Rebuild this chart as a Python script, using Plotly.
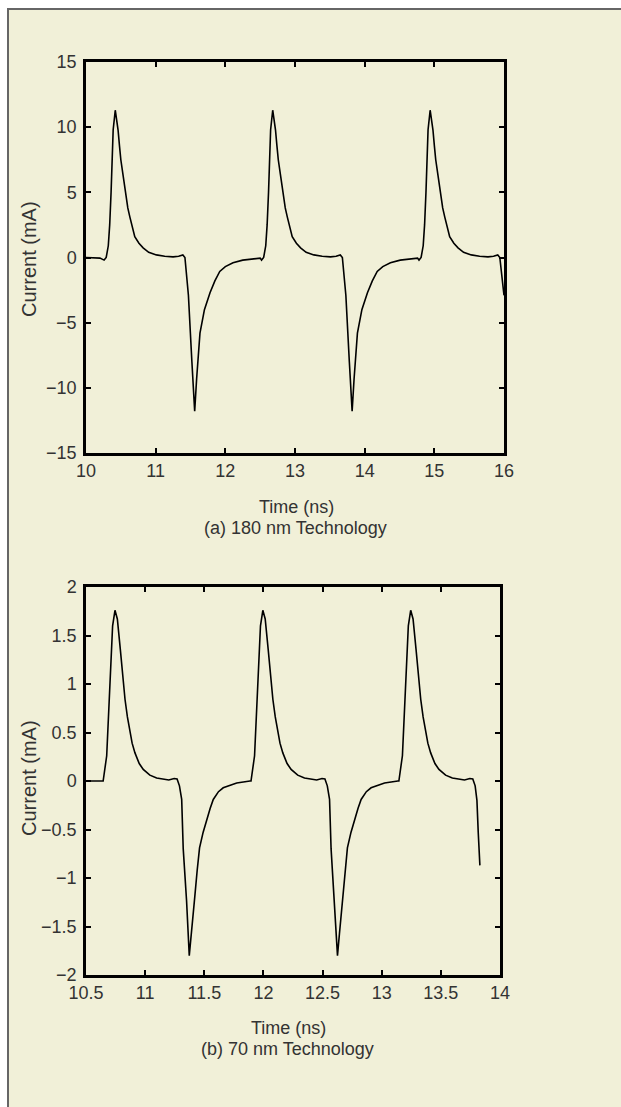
import plotly.graph_objects as go

# ---- data: (a) 180 nm technology ----
time_a = [10.00, 10.10, 10.20,
          10.26, 10.29, 10.32, 10.34, 10.36, 10.39, 10.42, 10.44, 10.46, 10.48,
          10.50, 10.535, 10.57, 10.60, 10.63, 10.665, 10.70, 10.76, 10.82, 10.90,
          11.01, 11.13, 11.25, 11.33, 11.39, 11.42, 11.47, 11.52, 11.56, 11.588,
          11.636, 11.70, 11.78, 11.85, 11.92, 12.00, 12.11, 12.25, 12.40, 12.50,
          12.52, 12.55, 12.58, 12.60, 12.62, 12.65, 12.68, 12.70, 12.72, 12.74,
          12.76, 12.795, 12.83, 12.86, 12.89, 12.925, 12.96, 13.02, 13.08, 13.16,
          13.27, 13.39, 13.51, 13.59, 13.65, 13.68, 13.73, 13.78, 13.82, 13.848,
          13.896, 13.96, 14.04, 14.11, 14.18, 14.26, 14.37, 14.51, 14.66, 14.76,
          14.78, 14.81, 14.84, 14.86, 14.88, 14.91, 14.94, 14.96, 14.98, 15.00,
          15.02, 15.055, 15.09, 15.12, 15.15, 15.185, 15.22, 15.28, 15.34, 15.42,
          15.53, 15.65, 15.77, 15.85, 15.91, 15.94, 16.00]
current_a = [0.0, 0.0, -0.05,
             -0.2, 0.0, 0.9, 2.5, 5.0, 9.8, 11.3, 10.6, 9.8, 8.6,
             7.5, 6.2, 4.7, 3.8, 3.1, 2.3, 1.6, 1.1, 0.74, 0.4,
             0.2, 0.1, 0.05, 0.1, 0.2, 0.0, -2.9, -8.0, -11.8, -9.3,
             -5.8, -4.0, -2.7, -1.8, -1.07, -0.7, -0.4, -0.2, -0.1, -0.05,
             -0.2, 0.0, 0.9, 2.5, 5.0, 9.8, 11.3, 10.6, 9.8, 8.6,
             7.5, 6.2, 4.7, 3.8, 3.1, 2.3, 1.6, 1.1, 0.74, 0.4,
             0.2, 0.1, 0.05, 0.1, 0.2, 0.0, -2.9, -8.0, -11.8, -9.3,
             -5.8, -4.0, -2.7, -1.8, -1.07, -0.7, -0.4, -0.2, -0.1, -0.05,
             -0.2, 0.0, 0.9, 2.5, 5.0, 9.8, 11.3, 10.6, 9.8, 8.6,
             7.5, 6.2, 4.7, 3.8, 3.1, 2.3, 1.6, 1.1, 0.74, 0.4,
             0.2, 0.1, 0.05, 0.1, 0.2, 0.0, -2.9]

# ---- data: (b) 70 nm technology ----
time_b = [10.50, 10.60,
          10.645, 10.675, 10.703, 10.725, 10.745, 10.765, 10.79, 10.81, 10.83, 10.85,
          10.872, 10.89, 10.914, 10.95, 10.984, 11.04, 11.097, 11.20, 11.245, 11.27,
          11.29, 11.309, 11.322, 11.35, 11.373, 11.393, 11.42, 11.44, 11.46, 11.49,
          11.52, 11.55, 11.576, 11.62, 11.66, 11.72, 11.774, 11.886,
          11.895, 11.925, 11.953, 11.975, 11.995, 12.015, 12.04, 12.06, 12.08, 12.10,
          12.122, 12.14, 12.164, 12.20, 12.234, 12.29, 12.347, 12.45, 12.495, 12.52,
          12.54, 12.559, 12.572, 12.60, 12.626, 12.643, 12.67, 12.69, 12.71, 12.74,
          12.77, 12.80, 12.826, 12.87, 12.91, 12.97, 13.024, 13.136,
          13.145, 13.175, 13.203, 13.225, 13.245, 13.265, 13.29, 13.31, 13.33, 13.35,
          13.372, 13.39, 13.414, 13.45, 13.484, 13.54, 13.597, 13.70, 13.745, 13.77,
          13.79, 13.805, 13.816, 13.83]
current_b = [0.0, 0.0,
             0.0, 0.26, 1.01, 1.6, 1.76, 1.67, 1.36, 1.08, 0.84, 0.66,
             0.5, 0.39, 0.29, 0.18, 0.12, 0.06, 0.03, 0.01, 0.025, 0.02,
             -0.05, -0.19, -0.7, -1.23, -1.8, -1.57, -1.19, -0.92, -0.69, -0.53,
             -0.4, -0.28, -0.19, -0.11, -0.07, -0.04, -0.02, 0.0,
             0.0, 0.26, 1.01, 1.6, 1.76, 1.67, 1.36, 1.08, 0.84, 0.66,
             0.5, 0.39, 0.29, 0.18, 0.12, 0.06, 0.03, 0.01, 0.025, 0.02,
             -0.05, -0.19, -0.7, -1.23, -1.8, -1.57, -1.19, -0.92, -0.69, -0.53,
             -0.4, -0.28, -0.19, -0.11, -0.07, -0.04, -0.02, 0.0,
             0.0, 0.26, 1.01, 1.6, 1.76, 1.67, 1.36, 1.08, 0.84, 0.66,
             0.5, 0.39, 0.29, 0.18, 0.12, 0.06, 0.03, 0.01, 0.025, 0.02,
             -0.05, -0.2, -0.53, -0.87]

xticks_a = [10, 11, 12, 13, 14, 15, 16]
yticks_a = [-15, -10, -5, 0, 5, 10, 15]
xticks_b = [10.5, 11, 11.5, 12, 12.5, 13, 13.5, 14]
yticks_b = [-2, -1.5, -1, -0.5, 0, 0.5, 1, 1.5, 2]

W, H = 621, 1107
BG = "#F1F0D8"
TXT = "#333333"
FONT = "Liberation Sans, Arial, sans-serif"


def px_x(p):
    return p / W


def px_y(p):
    return 1 - p / H


fig = go.Figure()
fig.add_trace(go.Scatter(x=time_a, y=current_a, mode="lines",
                         line=dict(color="black", width=1.6),
                         xaxis="x", yaxis="y", showlegend=False))
fig.add_trace(go.Scatter(x=time_b, y=current_b, mode="lines",
                         line=dict(color="black", width=1.6),
                         xaxis="x2", yaxis="y2", showlegend=False))

axis_common = dict(showline=True, linecolor="black", linewidth=2.5, mirror="ticks",
                   ticks="inside", ticklen=5, tickwidth=1.5, tickcolor="black",
                   showgrid=False, zeroline=False, automargin=False,
                   tickfont=dict(family=FONT, size=18, color=TXT))

fig.update_layout(
    template="none",
    width=W, height=H,
    margin=dict(l=0, r=0, t=0, b=0, pad=0),
    paper_bgcolor="white",
    plot_bgcolor="rgba(0,0,0,0)",
    xaxis=dict(domain=[px_x(86), px_x(504)], range=[10, 16], tickvals=xticks_a,
               anchor="y", **axis_common),
    yaxis=dict(domain=[px_y(453), px_y(62)], range=[-15, 15], tickvals=yticks_a,
               anchor="x", ticklabelstandoff=3, **axis_common),
    xaxis2=dict(domain=[px_x(86), px_x(500)], range=[10.5, 14], tickvals=xticks_b,
                anchor="y2", **axis_common),
    yaxis2=dict(domain=[px_y(975), px_y(587)], range=[-2, 2], tickvals=yticks_b,
                anchor="x2", ticklabelstandoff=3, **axis_common),
    shapes=[
        dict(type="rect", xref="paper", yref="paper", x0=px_x(7), x1=1.0,
             y0=0, y1=px_y(9), fillcolor=BG, line=dict(width=0), layer="below"),
        dict(type="line", xref="paper", yref="paper", x0=px_x(7), x1=1.0,
             y0=px_y(9), y1=px_y(9), line=dict(color="#666666", width=2)),
        dict(type="line", xref="paper", yref="paper", x0=px_x(8), x1=px_x(8),
             y0=0, y1=px_y(9), line=dict(color="#666666", width=2)),
    ],
)

ann_font = dict(family=FONT, size=18, color=TXT)
ylab_font = dict(family=FONT, size=20, color=TXT)
annotations = [
    dict(text="Current (mA)", x=px_x(29), y=px_y(259), textangle=-90, font=ylab_font),
    dict(text="Time (ns)", x=px_x(296), y=px_y(507), font=ann_font),
    dict(text="(a) 180 nm Technology", x=px_x(295), y=px_y(528), font=ann_font),
    dict(text="Current (mA)", x=px_x(29), y=px_y(778), textangle=-90, font=ylab_font),
    dict(text="Time (ns)", x=px_x(288), y=px_y(1028), font=ann_font),
    dict(text="(b) 70 nm Technology", x=px_x(287), y=px_y(1049), font=ann_font),
]
for a in annotations:
    fig.add_annotation(xref="paper", yref="paper", showarrow=False,
                       xanchor="center", yanchor="middle", **a)

fig.write_html("out.html")
